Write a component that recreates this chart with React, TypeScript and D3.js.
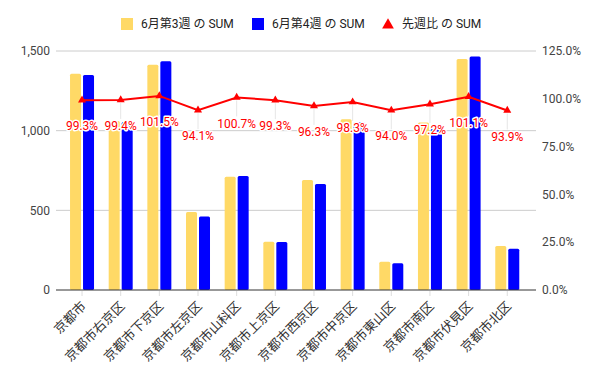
import * as d3 from "d3";
import React, { useEffect, useRef } from "react";

const categories = [
  "京都市",
  "京都市右京区",
  "京都市下京区",
  "京都市左京区",
  "京都市山科区",
  "京都市上京区",
  "京都市西京区",
  "京都市中京区",
  "京都市東山区",
  "京都市南区",
  "京都市伏見区",
  "京都市北区",
];
const week3 = [1358, 1060, 1413, 490, 711, 303, 690, 1071, 178, 1052, 1450, 276];
const week4 = [1349, 1054, 1435, 461, 716, 301, 665, 1054, 168, 1022, 1466, 259];
const ratio = [99.3, 99.4, 101.5, 94.1, 100.7, 99.3, 96.3, 98.3, 94.0, 97.2, 101.1, 93.9];
const leftTicks = [0, 500, 1000, 1500];
const rightTicks = [0, 25, 50, 75, 100, 125];
const legendNames = ["6月第3週 の SUM", "6月第4週 の SUM", "先週比 の SUM"];

const W = 600;
const H = 371;
const FONT = "Roboto, Arial, 'Noto Sans CJK JP', sans-serif";
const YELLOW = "#ffd966";
const BLUE = "#0000ff";
const RED = "#ff0000";

const App: React.FC = () => {
  const svgRef = useRef<SVGSVGElement>(null);

  useEffect(() => {
    const svg = d3.select(svgRef.current);
    svg.selectAll("*").remove();
    svg.attr("font-family", FONT);

    const top = 51;
    const bottom = 290;
    const x = d3.scaleBand<string>().domain(categories).range([62.7, 526.6]);
    const y = d3.scaleLinear().domain([0, 1500]).range([bottom, top]);
    const y2 = d3.scaleLinear().domain([0, 125]).range([bottom, top]);
    const cx = (d: string) => (x(d) as number) + x.bandwidth() / 2;

    // gridlines
    svg
      .append("g")
      .selectAll("line")
      .data(leftTicks.slice(1))
      .join("line")
      .attr("x1", 56)
      .attr("x2", 536)
      .attr("y1", (d) => y(d))
      .attr("y2", (d) => y(d))
      .attr("stroke", "#cccccc");

    // left axis labels
    svg
      .append("g")
      .selectAll("text")
      .data(leftTicks)
      .join("text")
      .attr("x", 50)
      .attr("y", (d) => y(d))
      .attr("dy", "0.35em")
      .attr("text-anchor", "end")
      .attr("font-size", 12)
      .attr("fill", "#444")
      .text((d) => d3.format(",")(d));

    // right axis labels
    svg
      .append("g")
      .selectAll("text")
      .data(rightTicks)
      .join("text")
      .attr("x", 542)
      .attr("y", (d) => y2(d))
      .attr("dy", "0.35em")
      .attr("font-size", 12)
      .attr("fill", "#444")
      .text((d) => d.toFixed(1) + "%");

    // bars
    const bw = 11;
    const bars = svg.append("g");
    bars
      .selectAll(".w3")
      .data(categories)
      .join("rect")
      .attr("class", "w3")
      .attr("x", (d) => cx(d) - bw - 1)
      .attr("y", (d, i) => y(week3[i]))
      .attr("width", bw)
      .attr("height", (d, i) => bottom - y(week3[i]))
      .attr("rx", 1.5)
      .attr("fill", YELLOW);
    bars
      .selectAll(".w4")
      .data(categories)
      .join("rect")
      .attr("class", "w4")
      .attr("x", (d) => cx(d) + 1)
      .attr("y", (d, i) => y(week4[i]))
      .attr("width", bw)
      .attr("height", (d, i) => bottom - y(week4[i]))
      .attr("rx", 1.5)
      .attr("fill", BLUE);

    // baseline
    svg
      .append("line")
      .attr("x1", 56)
      .attr("x2", 536)
      .attr("y1", bottom)
      .attr("y2", bottom)
      .attr("stroke", "#333");

    // x ticks
    svg
      .append("g")
      .selectAll("line")
      .data(categories)
      .join("line")
      .attr("x1", cx)
      .attr("x2", cx)
      .attr("y1", bottom + 1)
      .attr("y2", bottom + 6)
      .attr("stroke", "#ddd");

    // x labels
    svg
      .append("g")
      .selectAll("text")
      .data(categories)
      .join("text")
      .attr("transform", (d) => `translate(${cx(d) + 5},${bottom + 17}) rotate(-45)`)
      .attr("text-anchor", "end")
      .attr("font-size", 13)
      .attr("fill", "#333")
      .text((d) => d);

    // leader lines
    svg
      .append("g")
      .selectAll("line")
      .data(categories)
      .join("line")
      .attr("x1", cx)
      .attr("x2", cx)
      .attr("y1", (d, i) => y2(ratio[i]) + 3)
      .attr("y2", (d, i) => y2(ratio[i]) + 19)
      .attr("stroke", "#e6e6e6");

    // ratio line
    const line = d3
      .line<number>()
      .x((d, i) => cx(categories[i]))
      .y((d) => y2(d));
    svg
      .append("path")
      .attr("d", line(ratio))
      .attr("fill", "none")
      .attr("stroke", RED)
      .attr("stroke-width", 2);

    const tri = d3.symbol().type(d3.symbolTriangle).size(28);
    svg
      .append("g")
      .selectAll("path")
      .data(ratio)
      .join("path")
      .attr("transform", (d, i) => `translate(${cx(categories[i])},${y2(d)})`)
      .attr("d", tri() as string)
      .attr("fill", RED);

    // data labels
    svg
      .append("g")
      .selectAll("text")
      .data(ratio)
      .join("text")
      .attr("x", (d, i) => cx(categories[i]))
      .attr("y", (d) => y2(d) + 26)
      .attr("dy", "0.35em")
      .attr("text-anchor", "middle")
      .attr("font-size", 12)
      .attr("fill", RED)
      .attr("stroke", "#fff")
      .attr("stroke-width", 3)
      .attr("stroke-linejoin", "round")
      .attr("paint-order", "stroke")
      .text((d) => d.toFixed(1) + "%");

    // legend
    const legendX = [121, 252, 382];
    const lg = svg
      .append("g")
      .selectAll("g")
      .data(legendNames)
      .join("g")
      .attr("transform", (d, i) => `translate(${legendX[i]},24)`);
    lg.filter((d, i) => i < 2)
      .append("rect")
      .attr("x", 0)
      .attr("y", -6)
      .attr("width", 12)
      .attr("height", 12)
      .attr("fill", (d, i) => (i === 0 ? YELLOW : BLUE));
    lg.filter((d, i) => i === 2)
      .append("path")
      .attr("transform", "translate(6,1)")
      .attr("d", d3.symbol().type(d3.symbolTriangle).size(60)() as string)
      .attr("fill", RED);
    lg.append("text")
      .attr("x", 20)
      .attr("dy", "0.35em")
      .attr("font-size", 12)
      .attr("fill", "#222")
      .text((d) => d);
  }, []);

  return (
    <svg
      ref={svgRef}
      width={W}
      height={H}
      style={{ position: "absolute", left: 0, top: 0, background: "#fff" }}
    />
  );
};

export default App;
